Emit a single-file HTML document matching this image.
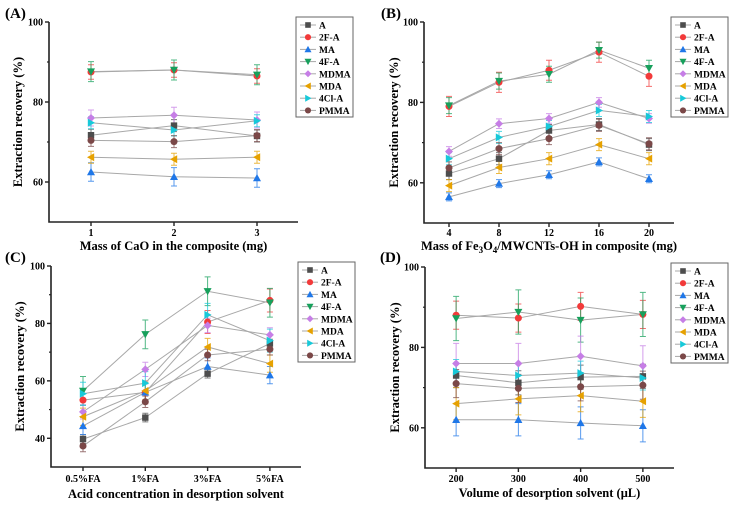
<!DOCTYPE html>
<html><head><meta charset="utf-8"><style>
body{margin:0;background:#fff}
svg{display:block;font-family:"Liberation Serif",serif;font-weight:bold}
</style></head><body>
<svg id="fig" width="737" height="509" viewBox="0 0 737 509" xmlns="http://www.w3.org/2000/svg"></svg>
<script>
const seriesNames=["A","2F-A","MA","4F-A","MDMA","MDA","4Cl-A","PMMA"];
const seriesColors=["#4d4d4d","#f23a3a","#1f77e8","#17a05c","#c67ee6","#e6a100","#17c9d9","#7b4848"];
const seriesMarkers=["square","circle","up","down","diamond","left","right","circle"];

const catsA=[1,2,3];
const valsA=[[71.7,74.1,71.5],[87.5,88,86.5],[62.5,61.3,61],[87.6,88,86.8],[76,76.7,75.5],[66.2,65.7,66.2],[74.8,73,75.3],[70.4,70.1,71.6]];
const errA=[1.5,1.8,2.3,2.5,2,1.5,1.5,1.5];
const ticksA=[60,80,100];

const catsB=[4,8,12,16,20];
const valsB=[[62.3,66,73,74.5,69.5],[79,85,88,92.5,86.5],[56.5,59.8,62,65.2,61],[79.2,85.3,87,93,88.5],[67.8,74.7,76,80,76],[59.3,63.8,66,69.5,66],[66,71.3,74,78,76.5],[63.7,68.5,71,74.3,69.7]];
const errB=[1.5,2.5,1,2,1.2,1.5,1.5,1.5];
const ticksB=[60,80,100];

const catsC=["0.5%FA","1%FA","3%FA","5%FA"];
const valsC=[[39.7,47.2,62.5,73],[53.3,56,80.5,88],[44.3,56,65,62],[56.5,76.2,91.2,87.2],[49.2,64,79.3,76],[47.5,56.5,71.8,66],[55.5,59.2,83,74],[37.3,52.7,69,71]];
const errC=[1.5,4,3,5,2.5,3,4,2];
const ticksC=[40,60,80,100];

const catsD=[200,300,400,500];
const valsD=[[73,71.2,72.6,72.8],[88,87.3,90.2,88.2],[62,62,61.2,60.5],[87.2,88.8,86.8,88.2],[76,76,77.8,75.4],[66,67.2,68,66.6],[74,73,73.6,72.4],[71,69.8,70.2,70.6]];
const errD=[3,3.5,4,5.5,5,4,3,3.5];
const ticksD=[60,80,100];

const NS="http://www.w3.org/2000/svg";
const svg=document.getElementById('fig');
function mk(tag,attrs,parent,text){const e=document.createElementNS(NS,tag);for(const k in attrs)e.setAttribute(k,attrs[k]);if(text!==undefined)e.textContent=text;(parent||svg).appendChild(e);return e;}

function marker(g,type,x,y,c,s){
  let e;
  if(type==="square"){e=mk('rect',{x:x-s,y:y-s,width:2*s,height:2*s,fill:c},g);}
  else if(type==="circle"){e=mk('circle',{cx:x,cy:y,r:s*1.1,fill:c},g);}
  else{let p;const t=s*1.25;
    if(type==="up")p=[[x,y-t],[x-t,y+t*0.8],[x+t,y+t*0.8]];
    if(type==="down")p=[[x,y+t],[x-t,y-t*0.8],[x+t,y-t*0.8]];
    if(type==="left")p=[[x-t,y],[x+t*0.8,y-t],[x+t*0.8,y+t]];
    if(type==="right")p=[[x+t,y],[x-t*0.8,y-t],[x-t*0.8,y+t]];
    if(type==="diamond")p=[[x,y-t],[x+t,y],[x,y+t],[x-t,y]];
    e=mk('polygon',{points:p.map(q=>q.join(',')).join(' '),fill:c},g);}
  
  
}

function panel(cfg){
  const g=mk('g',{});
  
  
  const {x0,x1,yTop,yBot,vMin,vMax}=cfg;
  const ys=v=>yBot-(v-vMin)/(vMax-vMin)*(yBot-yTop);
  const xs=i=>cfg.xOf(i);
  // series
  cfg.vals.forEach((row,si)=>{
    const sg=mk('g',{},g);
    
    
    const pts=row.map((v,i)=>[xs(i),ys(v)]);
    const pl=mk('polyline',{points:pts.map(p=>p.join(',')).join(' '),fill:'none',stroke:'#a8a8a8','stroke-width':1},sg);
    
    
    row.forEach((v,i)=>{
      const x=xs(i),e=cfg.err[si];
      const eb=mk('path',{d:`M${x},${ys(v-e)}V${ys(v+e)}M${x-3},${ys(v-e)}h6M${x-3},${ys(v+e)}h6`,stroke:seriesColors[si],'stroke-width':1,fill:'none',opacity:0.75},sg);
      
      
    });
  });
  cfg.vals.forEach((row,si)=>row.forEach((v,i)=>marker(g,seriesMarkers[si],xs(i),ys(v),seriesColors[si],3.2)));
  // axes
  const ax=mk('path',{d:`M${x0},${yTop}V${yBot}H${x1}`,stroke:'#222','stroke-width':1.6,fill:'none'},g);
  
  
  cfg.ticks.forEach(t=>{
    mk('line',{x1:x0-4,x2:x0,y1:ys(t),y2:ys(t),stroke:'#222','stroke-width':1.4},g);
    const m=t-10; if(m>vMin) mk('line',{x1:x0-2,x2:x0,y1:ys(m),y2:ys(m),stroke:'#222','stroke-width':1.2},g);
    const tl=mk('text',{x:x0-6,y:ys(t)+3.5,'text-anchor':'end','font-size':10},g,t);
    
    
  });
  cfg.cats.forEach((c,i)=>{
    mk('line',{x1:xs(i),x2:xs(i),y1:yBot,y2:yBot+4,stroke:'#222','stroke-width':1.4},g);
    const tl=mk('text',{x:xs(i),y:cfg.tickY,'text-anchor':'middle','font-size':10},g,c);
    
    
  });
  const yt=mk('text',{transform:`translate(${cfg.ylx},${(yTop+yBot)/2}) rotate(-90)`,'text-anchor':'middle','font-size':12.5},g,'Extraction recovery (%)');
  
  
  const xt=mk('text',{x:(x0+x1)/2,y:cfg.xlY,'text-anchor':'middle','font-size':12.5},g);
  
  
  xt.innerHTML=cfg.xlabel;
  const pl=mk('text',{x:cfg.lx,y:cfg.ly,'font-size':15},g,'('+cfg.id+')');
  
  
  // legend
  const lg=mk('g',{},g);
  
  
  mk('rect',{x:cfg.legX,y:cfg.legY,width:57,height:100,fill:'#fff',stroke:'#666','stroke-width':1},lg);
  seriesNames.forEach((n,si)=>{
    const ey=cfg.legY+8+si*12.2;
    const le=mk('g',{},lg);
    
    
    mk('line',{x1:cfg.legX+4,x2:cfg.legX+20,y1:ey,y2:ey,stroke:'#a8a8a8','stroke-width':1},le);
    marker(le,seriesMarkers[si],cfg.legX+12,ey,seriesColors[si],2.8);
    mk('text',{x:cfg.legX+23,y:ey+3.5,'font-size':9.5},le,n);
  });
}

panel({id:'A',x0:49,x1:298,yTop:22,yBot:222,vMin:50,vMax:100,cats:catsA,vals:valsA,err:errA,ticks:ticksA,
  xOf:i=>49.5+(catsA[i]-0.5)*83,tickY:236,ylx:22,xlY:250,xlabel:'Mass of CaO in the composite (mg)',lx:5,ly:18,legX:296,legY:17});
panel({id:'B',x0:424,x1:674,yTop:22,yBot:223,vMin:50,vMax:100,cats:catsB,vals:valsB,err:errB,ticks:ticksB,
  xOf:i=>424+(catsB[i]-2)*12.5,tickY:236,ylx:398,xlY:250,xlabel:'Mass of Fe<tspan font-size="9" dy="3">3</tspan><tspan dy="-3">O</tspan><tspan font-size="9" dy="3">4</tspan><tspan dy="-3">/MWCNTs-OH in composite (mg)</tspan>',lx:381,ly:18,legX:671,legY:17});
panel({id:'C',x0:51,x1:301,yTop:266,yBot:467,vMin:30,vMax:100,cats:catsC,vals:valsC,err:errC,ticks:ticksC,
  xOf:i=>83+i*62.3,tickY:482,ylx:24,xlY:498,xlabel:'Acid concentration in desorption solvent',lx:5,ly:262,legX:298,legY:262});
panel({id:'D',x0:425,x1:674,yTop:267,yBot:468,vMin:50,vMax:100,cats:catsD,vals:valsD,err:errD,ticks:ticksD,
  xOf:i=>425+(catsD[i]-150)*0.6225,tickY:482,ylx:399,xlY:497,xlabel:'Volume of desorption solvent (μL)',lx:380,ly:262,legX:671,legY:263});
</script>
</body></html>
